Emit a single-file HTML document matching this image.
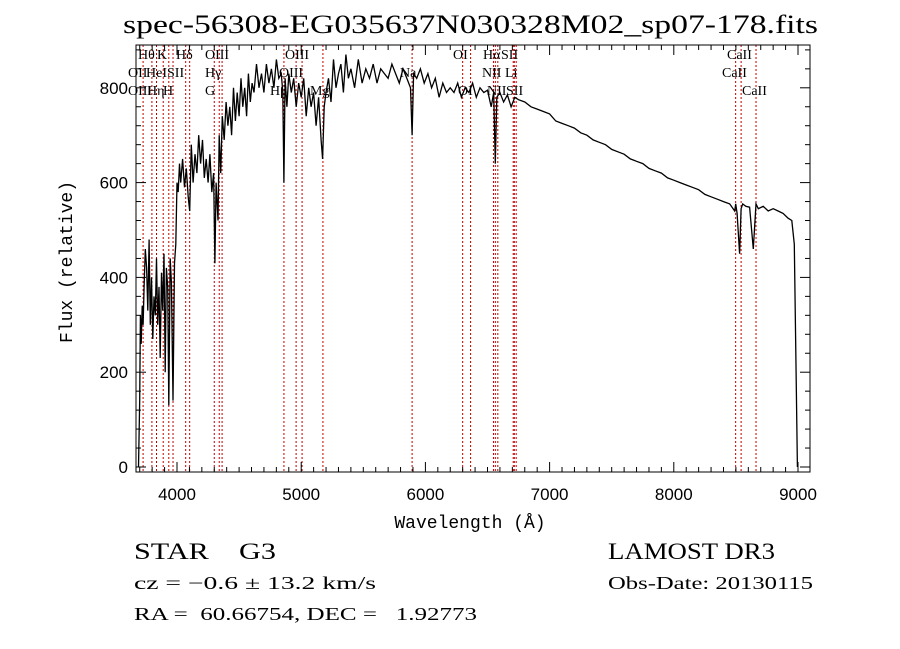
<!DOCTYPE html>
<html><head><meta charset="utf-8">
<style>
html,body{margin:0;padding:0;background:#fff;}
svg{display:block;}
text{fill:#000;}
</style></head>
<body>
<svg id="chart" width="900" height="649" viewBox="0 0 900 649" xmlns="http://www.w3.org/2000/svg">
<rect width="900" height="649" fill="#fff"/>
<text x="123" y="33" font-family="Liberation Serif, serif" font-size="26" textLength="695" lengthAdjust="spacingAndGlyphs">spec-56308-EG035637N030328M02_sp07-178.fits</text>
<g id="lines"></g>
<g id="spec"></g>
<g id="axes"></g>
<text x="470" y="528" text-anchor="middle" font-family="Liberation Mono, monospace" font-size="18">Wavelength (Å)</text>
<text transform="translate(72,262) rotate(-90)" text-anchor="middle" font-family="Liberation Mono, monospace" font-size="18">Flux (relative)</text>
<text x="134" y="559" font-family="Liberation Serif, serif" font-size="23" xml:space="preserve" textLength="142" lengthAdjust="spacingAndGlyphs">STAR    G3</text>
<text x="134" y="589" font-family="Liberation Serif, serif" font-size="18" textLength="242" lengthAdjust="spacingAndGlyphs">cz = −0.6 ± 13.2 km/s</text>
<text x="134" y="620" font-family="Liberation Serif, serif" font-size="18" xml:space="preserve" textLength="343" lengthAdjust="spacingAndGlyphs">RA =  60.66754, DEC =   1.92773</text>
<text x="608" y="559" font-family="Liberation Serif, serif" font-size="23" textLength="167" lengthAdjust="spacingAndGlyphs">LAMOST DR3</text>
<text x="608" y="589" font-family="Liberation Serif, serif" font-size="18" textLength="205" lengthAdjust="spacingAndGlyphs">Obs-Date: 20130115</text>
</svg>
<script>
const wavelengths=[3690,3700,3705,3712,3720,3727,3735,3745,3755,3765,3775,3785,3795,3805,3815,3825,3835,3845,3855,3865,3875,3885,3895,3905,3915,3925,3934,3945,3955,3968,3980,3990,4000,4010,4020,4030,4045,4060,4075,4090,4102,4115,4130,4145,4160,4175,4190,4205,4220,4235,4250,4265,4280,4295,4305,4315,4330,4340,4352,4365,4380,4395,4410,4425,4440,4455,4470,4485,4500,4515,4530,4545,4560,4575,4590,4605,4620,4640,4660,4680,4700,4720,4740,4760,4780,4800,4820,4840,4852,4861,4870,4885,4900,4920,4940,4960,4980,5000,5020,5040,5060,5080,5100,5120,5140,5160,5172,5185,5200,5220,5240,5260,5280,5300,5320,5340,5360,5380,5400,5430,5460,5490,5520,5550,5580,5610,5640,5670,5700,5730,5760,5790,5820,5850,5880,5893,5905,5930,5960,5990,6020,6050,6080,6110,6140,6170,6200,6230,6260,6290,6320,6350,6380,6410,6440,6470,6500,6530,6550,6563,6575,6600,6630,6660,6690,6720,6750,6800,6850,6900,6950,7000,7050,7100,7150,7200,7250,7300,7350,7400,7450,7500,7550,7600,7650,7700,7750,7800,7850,7900,7950,8000,8050,8100,8150,8200,8250,8300,8350,8400,8450,8490,8498,8510,8530,8542,8555,8580,8610,8640,8662,8680,8720,8760,8800,8840,8880,8920,8950,8970,8985,8995,9000];
const fluxes=[0,140,320,260,340,300,380,460,420,330,480,300,400,270,360,320,440,300,380,230,410,330,450,200,420,380,130,440,390,140,430,470,600,580,640,600,650,590,630,570,540,680,600,660,620,700,640,690,610,650,600,660,580,620,430,600,520,700,620,740,690,770,720,760,700,800,730,790,740,820,760,800,740,830,770,810,790,850,800,830,790,850,810,840,800,860,820,830,790,600,820,760,830,790,820,760,810,780,820,740,800,760,790,720,780,690,650,760,790,820,770,860,800,830,850,790,870,820,840,800,860,810,840,820,850,810,840,830,820,850,830,810,840,820,800,700,830,820,840,810,830,800,820,780,810,790,800,790,810,780,800,790,810,780,800,790,795,760,790,640,780,790,770,785,760,780,775,770,760,755,750,745,730,725,720,715,705,700,690,685,680,670,665,660,650,645,640,630,625,620,610,605,600,595,590,585,575,570,565,560,555,540,555,535,450,545,555,550,548,460,555,545,550,540,545,540,535,525,520,470,200,0];
const lineWaves=[3727,3798,3835,3889,3934,3968,4070,4102,4300,4340,4363,4861,4959,5007,5175,5893,6300,6364,6548,6563,6583,6707,6716,6731,8498,8542,8662];
const lineLabels=[["Hθ",138,59],["K",157,59],["Hδ",176,59],["OIII",205,59],["OIII",285,59],["OI",453,59],["Hα",483,59],["SII",501,59],["CaII",727,59],
["OII",128,77],["HeI",146,77],["SII",167,77],["Hγ",205,77],["OIII",279,77],["Na",400,77],["NII",482,77],["Li",505,77],["CaII",722,77],
["OIII",128,95],["Hη",147,95],["H",163,95],["G",205,95],["Hβ",270,95],["Mg",310,95],["OI",458,95],["NII",487,95],["SII",506,95],["CaII",742,95]];
const xTicks=[4000,5000,6000,7000,8000,9000];
const yTicks=[0,200,400,600,800];

const X0=136,X1=810,Y0=45,Y1=472;
const xs=w=>177+(w-4000)*0.1242;
const ys=f=>467-f*0.474;
const NS="http://www.w3.org/2000/svg";
function mk(tag,attrs,parent){const e=document.createElementNS(NS,tag);for(const k in attrs)e.setAttribute(k,attrs[k]);parent.appendChild(e);return e;}
const gl=document.getElementById('lines'),gs=document.getElementById('spec'),ga=document.getElementById('axes');
lineWaves.forEach(w=>{
  const l=mk('line',{x1:xs(w),x2:xs(w),y1:Y0,y2:Y1,stroke:'#c00000','stroke-width':1,'stroke-dasharray':'2,2'},gl);
  
  
});
lineLabels.forEach(d=>{
  const t=mk('text',{x:d[1],y:d[2],'font-family':'Liberation Serif, serif','font-size':14},gl);
  t.textContent=d[0];
  
  
});
let dstr='';
wavelengths.forEach((w,i)=>{dstr+=(i?'L':'M')+xs(w).toFixed(1)+','+Math.max(Y0,Math.min(Y1,ys(fluxes[i]))).toFixed(1);});
const p=mk('path',{d:dstr,fill:'none',stroke:'#000','stroke-width':1.3},gs);


const fr=mk('rect',{x:X0,y:Y0,width:X1-X0,height:Y1-Y0,fill:'none',stroke:'#000','stroke-width':1},ga);


for(let w=3700;w<=9050;w+=100){
  const major=w%1000===0;const len=major?10:5;
  mk('line',{x1:xs(w),x2:xs(w),y1:Y1,y2:Y1-len,stroke:'#000'},ga);
  mk('line',{x1:xs(w),x2:xs(w),y1:Y0,y2:Y0+len,stroke:'#000'},ga);
}
for(let f=0;f<=880;f+=40){
  const major=f%200===0;const len=major?10:5;
  mk('line',{x1:X0,x2:X0+len,y1:ys(f),y2:ys(f),stroke:'#000'},ga);
  mk('line',{x1:X1,x2:X1-len,y1:ys(f),y2:ys(f),stroke:'#000'},ga);
}
xTicks.forEach(w=>{
  const t=mk('text',{x:xs(w),y:500,'text-anchor':'middle','font-family':'Liberation Sans, sans-serif','font-size':17},ga);
  t.textContent=w;
  
  
});
yTicks.forEach(f=>{
  const t=mk('text',{x:128,y:ys(f)+6,'text-anchor':'end','font-family':'Liberation Sans, sans-serif','font-size':17},ga);
  t.textContent=f;
  
  
});
</script>
</body></html>
